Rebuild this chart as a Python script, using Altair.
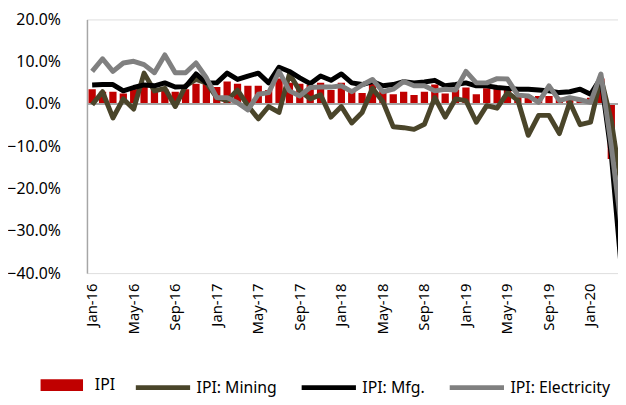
import altair as alt
import pandas as pd

months = [f"{m}-{y}" for y in ["16", "17", "18", "19", "20"]
          for m in ["Jan", "Feb", "Mar", "Apr", "May", "Jun", "Jul", "Aug", "Sep", "Oct", "Nov", "Dec"]][:52]

ipi = [3.5, 2.9, 2.9, 2.5, 3.5, 4.9, 3.8, 3.5, 2.9, 3.5, 4.8, 5.1, 4.0, 5.3, 4.8, 4.3, 4.3, 3.3, 6.0, 5.0,
       4.8, 4.5, 5.0, 3.3, 5.0, 2.9, 2.6, 5.0, 3.4, 2.3, 2.9, 2.1, 2.9, 4.6, 2.5, 3.4, 3.9, 2.3, 3.7, 3.7,
       3.9, 1.9, 2.1, 1.9, 1.9, 1.5, 1.9, 1.2, 1.5, 6.0, -13.0, -30.0]
mining = [-0.2, 2.9, -3.3, 1.2, -1.2, 7.3, 3.1, 3.7, -0.6, 4.3, 5.8, 5.0, 1.5, 0.8, 3.3, -0.4, -3.5, -0.6, -2.0, 7.1,
          3.1, 1.2, 2.2, -3.1, -0.6, -4.5, -2.0, 3.7, 0.6, -5.4, -5.6, -6.0, -4.8, 1.5, -3.1, 1.2, 0.8, -4.3, -0.4, -1.0,
          2.7, 0.9, -7.4, -2.7, -2.7, -7.0, 0.4, -4.9, -4.3, 6.2, -4.0, -20.0]
mfg = [4.5, 4.6, 4.6, 3.1, 3.9, 4.5, 4.3, 5.0, 4.0, 4.1, 7.1, 5.0, 5.0, 7.3, 5.8, 6.6, 7.3, 5.0, 8.7, 7.7,
       6.2, 4.8, 6.6, 5.6, 7.1, 5.0, 4.6, 5.3, 4.3, 4.6, 5.3, 5.0, 5.2, 5.6, 4.3, 4.6, 5.0, 4.3, 4.3, 3.9,
       3.7, 3.5, 3.5, 3.3, 3.1, 2.7, 2.9, 3.5, 2.3, 6.2, -12.0, -40.0]
elec = [7.7, 10.7, 7.7, 9.7, 10.1, 9.3, 7.4, 11.6, 7.4, 7.4, 9.7, 6.2, 1.5, 1.5, 0.3, -1.4, 2.3, 2.7, 7.7, 3.1,
        1.9, 3.9, 4.0, 4.0, 4.3, 2.9, 4.5, 5.8, 2.9, 3.5, 5.3, 4.3, 4.3, 3.1, 3.5, 3.3, 7.7, 5.0, 5.0, 6.0,
        5.9, 2.1, 1.9, 0.4, 4.3, 0.8, 1.5, 1.0, 0.4, 7.1, -10.0, -30.0]

line_names = ["IPI: Mining", "IPI: Mfg.", "IPI: Electricity"]
line_colors = ["#4A452A", "#000000", "#808080"]
bar_name = "IPI"
bar_color = "#C00000"
tick_labels = months[::4]
y_ticks = [-40, -30, -20, -10, 0, 10, 20]

bars_df = pd.DataFrame({"month": months, "value": ipi, "bseries": bar_name})
lines_df = pd.concat([
    pd.DataFrame({"month": months, "value": vals, "series": name, "order": k})
    for k, (name, vals) in enumerate(zip(line_names, [mining, mfg, elec]))
])

FONT = "Noto Sans"

x_scale = alt.Scale(paddingInner=0.3, paddingOuter=0.15, range=[0, 547])
x_enc = alt.X("month:N", sort=months, scale=x_scale,
              axis=alt.Axis(values=tick_labels, labelAngle=-90, labelFontSize=15, labelFont=FONT,
                            labelColor="#000000", ticks=False, domain=False, labelPadding=10,
                            title=None, labelBaseline="middle", labelAlign="right"))
y_scale = alt.Scale(domain=[-40, 20], nice=False)

bars = alt.Chart(bars_df).mark_bar(stroke=None, clip=True).encode(
    x=x_enc,
    y=alt.Y("value:Q", scale=y_scale,
            axis=alt.Axis(values=y_ticks, labelExpr="format(datum.value, '.1f') + '%'",
                          labelFontSize=16, labelFont=FONT, labelColor="#000000",
                          ticks=False, grid=False, domainColor="#A6A6A6", domainWidth=1.5,
                          labelPadding=27, title=None)),
    fill=alt.Fill("bseries:N", scale=alt.Scale(domain=[bar_name], range=[bar_color]),
                  legend=alt.Legend(orient="none", legendX=-47, legendY=349, title=None,
                                    symbolType="M-1,-0.28H1V0.28H-1Z", symbolSize=1849,
                                    symbolStrokeWidth=0, labelFontSize=16, labelFont=FONT,
                                    labelColor="#000000", labelOffset=12, padding=0)),
)

zero = alt.Chart(pd.DataFrame({"v": [0]})).mark_rule(color="#A6A6A6", strokeWidth=2).encode(
    y=alt.Y("v:Q", scale=y_scale))

lines = alt.Chart(lines_df).mark_line(strokeWidth=5, strokeJoin="round", clip=True).encode(
    x=alt.X("month:N", sort=months, scale=x_scale),
    y=alt.Y("value:Q", scale=y_scale),
    stroke=alt.Stroke("series:N", sort=line_names,
                      scale=alt.Scale(domain=line_names, range=line_colors),
                      legend=alt.Legend(orient="none", legendX=47, legendY=343, title=None,
                                        direction="horizontal", columns=3, symbolType="stroke",
                                        symbolSize=3025, symbolStrokeWidth=5,
                                        labelFontSize=16, labelFont=FONT, labelColor="#000000",
                                        labelOffset=4, columnPadding=14, padding=0)),
    detail="series:N",
    order="order:Q",
)

chart = alt.layer(bars, zero, lines).resolve_legend(fill="independent", stroke="independent").properties(
    width=538, height=257,
    padding={"left": 80, "top": 9, "right": 0, "bottom": 128},
    autosize=alt.AutoSizeParams(type="none"),
).configure_view(stroke=None).configure(background="white")

chart.save("out.html", embed_options={"renderer": "svg", "actions": False})
